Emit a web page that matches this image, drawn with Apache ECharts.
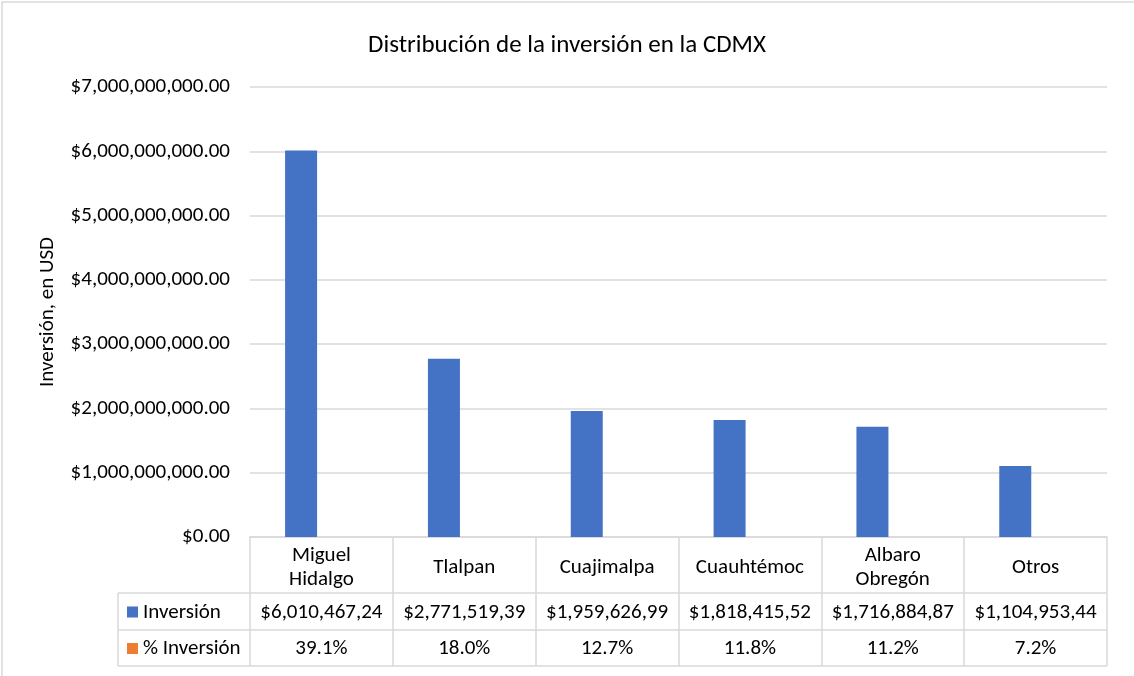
<!DOCTYPE html>
<html>
<head>
<meta charset="utf-8">
<script src="https://cdn.jsdelivr.net/npm/echarts@6/dist/echarts.min.js"></script>
<style>
html, body { margin: 0; padding: 0; background: #fff; }
#main { width: 1134px; height: 676px; }
</style>
</head>
<body>
<div id="main"></div>
<script>
// datos
var categorias = ['Miguel Hidalgo', 'Tlalpan', 'Cuajimalpa', 'Cuauhtémoc', 'Albaro Obregón', 'Otros'];
var inversion = [6010467240, 2771519390, 1959626990, 1818415520, 1716884870, 1104953440];
var inversionTexto = ['$6,010,467,24', '$2,771,519,39', '$1,959,626,99', '$1,818,415,52', '$1,716,884,87', '$1,104,953,44'];
var porcentaje = [39.1, 18.0, 12.7, 11.8, 11.2, 7.2];
var yTicks = [0, 1000000000, 2000000000, 3000000000, 4000000000, 5000000000, 6000000000, 7000000000];

var FONT = 'Carlito, Calibri, Lato, sans-serif';
var FS = 21;
var gridL = 250, gridR = 1107, gridT = 87, gridB = 537;
var fila2 = 593, fila3 = 630, filaFin = 666, tablaL = 118;
var lineColor = '#d9d9d9';

var myChart = echarts.init(document.getElementById('main'));

var option = {
    animation: false,
    color: ['#4472C4', '#ED7D31'],
    textStyle: { fontFamily: FONT },
    title: {
        text: 'Distribución de la inversión en la CDMX',
        left: 'center',
        top: 28,
        textStyle: { fontFamily: FONT, fontSize: 25, fontWeight: 'normal', color: '#000' }
    },
    grid: { left: gridL, right: 1134 - gridR, top: gridT, bottom: 676 - gridB, containLabel: false },
    xAxis: {
        type: 'category',
        data: categorias,
        axisLine: { show: true, lineStyle: { color: lineColor, width: 1.5 } },
        axisTick: { show: true, length: filaFin - gridB, lineStyle: { color: lineColor, width: 1.5 } },
        axisLabel: {
            interval: 0,
            margin: 31,
            verticalAlign: 'middle',
            lineHeight: 24,
            color: '#000',
            fontSize: FS,
            fontFamily: FONT,
            formatter: function (v) { return v.replace(' ', '\n'); }
        }
    },
    yAxis: {
        type: 'value',
        min: 0,
        max: yTicks[yTicks.length - 1],
        interval: yTicks[1] - yTicks[0],
        name: 'Inversión, en USD',
        nameLocation: 'middle',
        nameGap: 192,
        nameTextStyle: { color: '#000', fontSize: FS, fontFamily: FONT },
        axisLine: { show: false },
        axisTick: { show: false },
        splitLine: { lineStyle: { color: lineColor, width: 1.5 } },
        axisLabel: {
            margin: 20,
            color: '#000',
            fontSize: FS,
            fontFamily: FONT,
            formatter: function (v) {
                return '$' + v.toLocaleString('en-US', { minimumFractionDigits: 2, maximumFractionDigits: 2 });
            }
        }
    },
    series: [
        {
            name: 'Inversión',
            type: 'bar',
            barWidth: 32,
            barGap: '27%',
            data: inversion
        },
        {
            name: '% Inversión',
            type: 'bar',
            barWidth: 32,
            data: porcentaje.map(function (p) { return p / 100; })
        }
    ]
};
myChart.setOption(option);

// tabla de datos debajo de la grafica
var y2 = (fila2 + fila3) / 2 + 1, y3 = (fila3 + filaFin) / 2 + 1;
var g = [];
g.push({ type: 'rect', shape: { x: 2, y: 2, width: 1140, height: 700 }, style: { fill: 'none', stroke: lineColor, lineWidth: 1.5 }, silent: true });
[fila2, fila3, filaFin].forEach(function (yy) {
    g.push({ type: 'line', shape: { x1: tablaL, y1: yy, x2: gridR, y2: yy }, style: { stroke: lineColor, lineWidth: 1.5 } });
});
g.push({ type: 'line', shape: { x1: tablaL, y1: fila2, x2: tablaL, y2: filaFin }, style: { stroke: lineColor, lineWidth: 1.5 } });
// leyenda en la tabla
g.push({ type: 'rect', shape: { x: 127, y: y2 - 6, width: 11, height: 11 }, style: { fill: '#4472C4' } });
g.push({ type: 'rect', shape: { x: 127, y: y3 - 6, width: 11, height: 11 }, style: { fill: '#ED7D31' } });
g.push({ type: 'text', x: 143, y: y2, style: { text: 'Inversión', fontSize: FS, fontFamily: FONT, fill: '#000', verticalAlign: 'middle' } });
g.push({ type: 'text', x: 143, y: y3, style: { text: '% Inversión', fontSize: FS, fontFamily: FONT, fill: '#000', verticalAlign: 'middle' } });
categorias.forEach(function (c, i) {
    var cx = myChart.convertToPixel({ xAxisIndex: 0 }, i);
    g.push({ type: 'text', x: cx, y: y2, style: { text: inversionTexto[i], fontSize: FS, fontFamily: FONT, fill: '#000', align: 'center', verticalAlign: 'middle' } });
    g.push({ type: 'text', x: cx, y: y3, style: { text: porcentaje[i].toFixed(1) + '%', fontSize: FS, fontFamily: FONT, fill: '#000', align: 'center', verticalAlign: 'middle' } });
});
myChart.setOption({ graphic: g });
</script>
</body>
</html>
